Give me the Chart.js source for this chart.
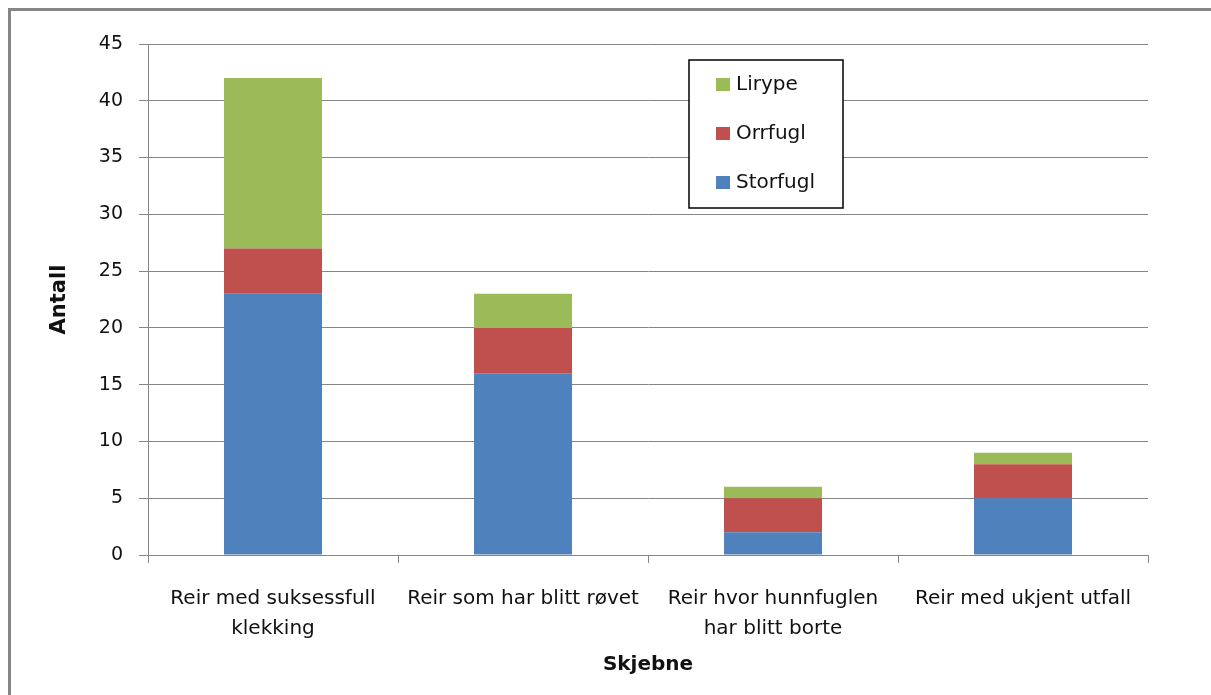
<!DOCTYPE html>
<html lang="no">
<head>
    <meta charset="UTF-8">
    <title>Skjebne for reir</title>
    <script src="https://cdn.jsdelivr.net/npm/chart.js@4.4.1/dist/chart.umd.min.js"></script>
    <style>
        body { margin: 0; background: #fff; overflow: hidden; }
        #wrap { position: relative; width: 1211px; height: 695px; }
        #ramme {
            position: absolute; left: 8px; top: 8px; width: 1300px; height: 800px;
            border-top: 3px solid #868686; border-left: 3px solid #868686;
            pointer-events: none;
        }
        canvas { position: absolute; left: 0; top: 0; }
    </style>
</head>
<body>
<div id="wrap">
    <div id="ramme"></div>
    <canvas id="graf" width="1211" height="695"></canvas>
</div>
<script>
    // Kategorier (skjebne)
    const kategorier = [
        ['Reir med suksessfull', 'klekking'],
        'Reir som har blitt røvet',
        ['Reir hvor hunnfuglen', 'har blitt borte'],
        'Reir med ukjent utfall'
    ];
    // Antall reir per art
    const storfugl = [23, 16, 2, 5];
    const orrfugl = [4, 4, 3, 3];
    const lirype = [15, 3, 1, 1];

    const gridFarge = '#868686';
    Chart.defaults.font.family = 'DejaVu Sans';
    Chart.defaults.color = '#111';

    // Tegner forklaringen i en boks inne i plottet
    const forklaring = {
        id: 'forklaring',
        afterDraw(chart) {
            const ctx = chart.ctx;
            const x = 689, y = 60, b = 154, h = 148;
            ctx.save();
            ctx.fillStyle = '#fff';
            ctx.fillRect(x, y, b, h);
            ctx.strokeStyle = '#000';
            ctx.lineWidth = 1.5;
            ctx.strokeRect(x, y, b, h);
            ctx.font = '20px "DejaVu Sans"';
            ctx.textBaseline = 'middle';
            const sets = chart.data.datasets.slice().reverse();
            sets.forEach((ds, i) => {
                const cy = y + 25 + i * 49;
                ctx.fillStyle = ds.backgroundColor;
                ctx.fillRect(x + 27, cy - 7, 14, 13);
                ctx.fillStyle = '#111';
                ctx.fillText(ds.label, x + 47, cy);
            });
            ctx.restore();
        }
    };

    new Chart(document.getElementById('graf'), {
        type: 'bar',
        data: {
            labels: kategorier,
            datasets: [
                { label: 'Storfugl', data: storfugl, backgroundColor: '#4F81BD' },
                { label: 'Orrfugl', data: orrfugl, backgroundColor: '#C0504D' },
                { label: 'Lirype', data: lirype, backgroundColor: '#9BBB59' }
            ]
        },
        options: {
            responsive: false,
            animation: false,
            layout: { padding: { left: 0, top: 44, right: 63, bottom: 0 } },
            datasets: { bar: { categoryPercentage: 1, barPercentage: 0.392 } },
            plugins: { legend: { display: false }, tooltip: { enabled: false } },
            scales: {
                x: {
                    stacked: true,
                    afterFit(scale) { scale.height = 140; },
                    grid: { offset: true, drawOnChartArea: false, drawTicks: true, tickLength: 8, color: gridFarge },
                    border: { color: gridFarge },
                    ticks: { autoSkip: false, maxRotation: 0, padding: 21, font: { size: 20, lineHeight: 1.5 } },
                    title: { display: true, text: 'Skjebne', font: { size: 20, weight: 'bold' }, padding: { top: 0, bottom: 18 } }
                },
                y: {
                    stacked: true,
                    min: 0,
                    max: 45,
                    afterFit(scale) { scale.width = 148; },
                    grid: { color: gridFarge, tickLength: 9 },
                    border: { color: gridFarge },
                    ticks: { stepSize: 5, padding: 16, font: { size: 19 } },
                    title: { display: true, text: 'Antall', font: { size: 21, weight: 'bold' }, padding: { top: 47, bottom: 0 } }
                }
            }
        },
        plugins: [forklaring]
    });
</script>
</body>
</html>
